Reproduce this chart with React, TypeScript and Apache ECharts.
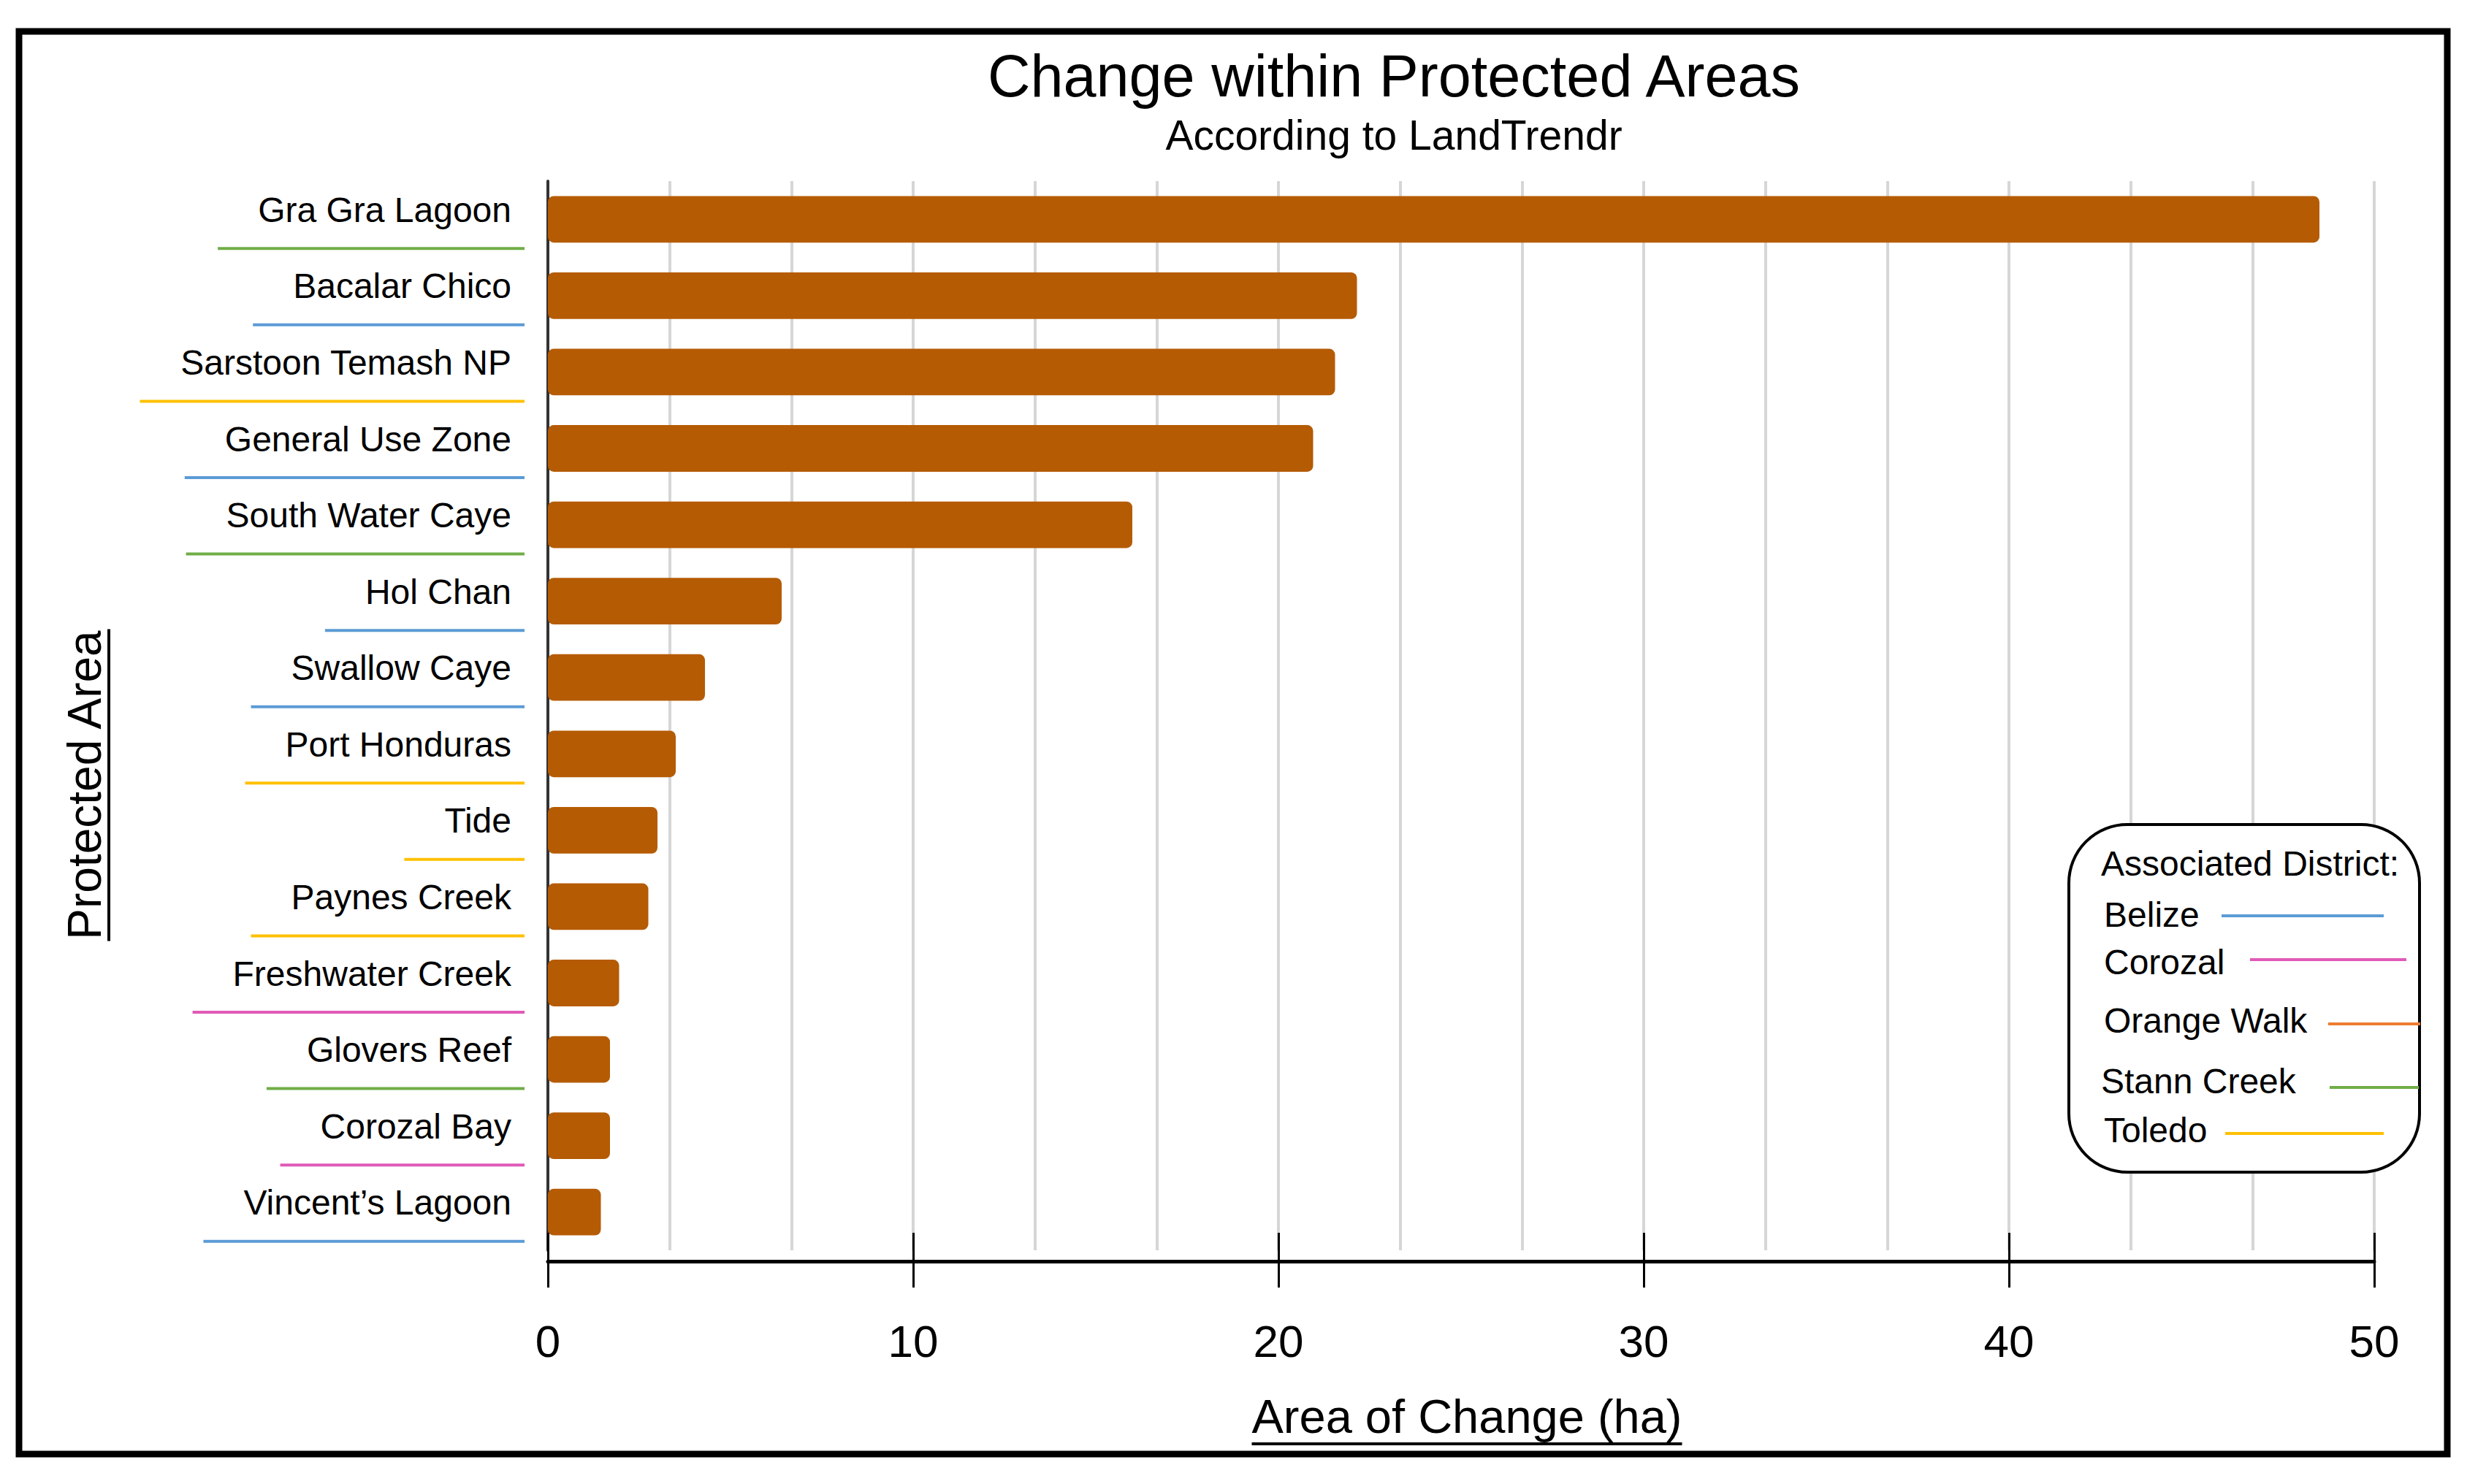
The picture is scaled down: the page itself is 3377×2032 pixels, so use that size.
import React, { useEffect, useRef } from 'react';
import * as echarts from 'echarts';

// ---------- data ----------
const categories = [
  'Gra Gra Lagoon',
  'Bacalar Chico',
  'Sarstoon Temash NP',
  'General Use Zone',
  'South Water Caye',
  'Hol Chan',
  'Swallow Caye',
  'Port Honduras',
  'Tide',
  'Paynes Creek',
  'Freshwater Creek',
  'Glovers Reef',
  'Corozal Bay',
  'Vincent\u2019s Lagoon',
];
const changeHa = [48.5, 22.15, 21.55, 20.95, 16.0, 6.4, 4.3, 3.5, 3.0, 2.75, 1.95, 1.7, 1.7, 1.45];
const categoryDistrict = [
  'Stann Creek',
  'Belize',
  'Toledo',
  'Belize',
  'Stann Creek',
  'Belize',
  'Belize',
  'Toledo',
  'Toledo',
  'Toledo',
  'Corozal',
  'Stann Creek',
  'Corozal',
  'Belize',
];
const districts = ['Belize', 'Corozal', 'Orange Walk', 'Stann Creek', 'Toledo'];
const titleText = 'Change within Protected Areas';
const subtitleText = 'According to LandTrendr';
const xAxisTitle = 'Area of Change (ha)';
const yAxisTitle = 'Protected Area';
const legendTitle = 'Associated District:';

// ---------- styles / layout ----------
const FONT = '"Liberation Sans", Arial, Helvetica, sans-serif';
const districtColors: Record<string, string> = {
  Belize: '#5B9BD5',
  Corozal: '#E05AB8',
  'Orange Walk': '#ED7D31',
  'Stann Creek': '#70AD47',
  Toledo: '#FFC000',
};
const legendLayout = [
  { tx: 2880, ty: 1252, x1: 3041, x2: 3263, ly: 1254 },
  { tx: 2880, ty: 1317, x1: 3080, x2: 3294, ly: 1314 },
  { tx: 2880, ty: 1397, x1: 3187, x2: 3313, ly: 1402 },
  { tx: 2876, ty: 1480, x1: 3189, x2: 3311, ly: 1489 },
  { tx: 2880, ty: 1547, x1: 3046, x2: 3263, ly: 1552 },
];

function measure(text: string, size: number): number {
  const ctx = document.createElement('canvas').getContext('2d');
  if (!ctx) return text.length * size * 0.5;
  ctx.font = `${size}px "Liberation Sans", Arial, sans-serif`;
  return ctx.measureText(text).width;
}

export default function App() {
  const ref = useRef<HTMLDivElement>(null);

  useEffect(() => {
    document.body.style.margin = '0';
    if (!ref.current) return;
    const chart = echarts.init(ref.current, undefined, { renderer: 'svg' });

    const LABEL_SIZE = 48;
    const AXIS_X = 750;
    const labelMargin = 50;
    const underlinePad = 55;

    const xNameW = measure(xAxisTitle, 65);
    const yNameW = measure(yAxisTitle, 64);
    const xNameCx = 2008;
    const yNameCy = 1075;

    const legendGraphics: any[] = [
      {
        type: 'rect',
        z: 100,
        shape: { x: 2832, y: 1129, width: 480, height: 476, r: 80 },
        style: { fill: '#fff', stroke: '#000', lineWidth: 4 },
      },
      {
        type: 'text',
        z: 101,
        x: 2876,
        y: 1182,
        style: {
          text: legendTitle,
          fontSize: 48,
          fontFamily: FONT,
          fill: '#000',
          textAlign: 'left',
          textVerticalAlign: 'middle',
          align: 'left',
          verticalAlign: 'middle',
        },
      },
    ];
    districts.forEach((d, i) => {
      const L = legendLayout[i];
      legendGraphics.push({
        type: 'text',
        z: 101,
        x: L.tx,
        y: L.ty,
        style: {
          text: d,
          fontSize: 48,
          fontFamily: FONT,
          fill: '#000',
          textAlign: 'left',
          textVerticalAlign: 'middle',
          align: 'left',
          verticalAlign: 'middle',
        },
      });
      legendGraphics.push({
        type: 'line',
        z: 101,
        shape: { x1: L.x1, y1: L.ly, x2: L.x2, y2: L.ly },
        style: { stroke: districtColors[d], lineWidth: 4 },
      });
    });

    const option: any = {
      animation: false,
      backgroundColor: '#fff',
      title: {
        text: titleText,
        subtext: subtitleText,
        left: 1903,
        top: 58,
        textAlign: 'center',
        itemGap: 12,
        textStyle: { fontFamily: FONT, fontSize: 81, fontWeight: 'normal', color: '#000' },
        subtextStyle: { fontFamily: FONT, fontSize: 57, color: '#000' },
      },
      grid: { left: AXIS_X, right: 3377 - 3250, top: 248, bottom: 2032 - 1712, containLabel: false },
      xAxis: [
        {
          type: 'value',
          min: 0,
          max: 50,
          interval: 10,
          position: 'bottom',
          offset: 15,
          axisLine: { show: true, lineStyle: { color: '#000', width: 5 } },
          axisTick: { show: true, length: 36, lineStyle: { color: '#000', width: 3 } },
          axisLabel: { fontSize: 62, color: '#000', margin: 78, fontFamily: FONT },
          splitLine: { show: false },
          name: xAxisTitle,
          nameLocation: 'middle',
          nameGap: 180,
          nameTextStyle: { fontSize: 65, color: '#000', fontFamily: FONT, padding: [0, 0, 0, 16] },
        },
        {
          type: 'value',
          min: 0,
          max: 50,
          interval: 10,
          position: 'bottom',
          offset: 15,
          axisLine: { show: false },
          axisTick: { show: true, inside: true, length: 39, lineStyle: { color: '#000', width: 3 } },
          axisLabel: { show: false },
          splitLine: { show: false },
        },
        {
          type: 'value',
          min: 0,
          max: 50,
          interval: 10 / 3,
          position: 'bottom',
          axisLine: { show: false },
          axisTick: { show: false },
          axisLabel: { show: false },
          splitLine: { show: true, lineStyle: { color: '#d6d6d6', width: 4 } },
        },
      ],
      yAxis: {
        type: 'category',
        data: categories,
        inverse: true,
        axisLine: { show: true, onZero: false, lineStyle: { color: '#333', width: 4 } },
        axisTick: { show: false },
        axisLabel: {
          fontSize: LABEL_SIZE,
          color: '#000',
          margin: labelMargin,
          fontFamily: FONT,
          verticalAlign: 'bottom',
          lineHeight: 26,
        },
        splitLine: { show: false },
      },
      series: [
        {
          type: 'bar',
          data: changeHa,
          xAxisIndex: 0,
          barCategoryGap: '39%',
          itemStyle: { color: '#B55B04', borderRadius: 8 },
          z: 3,
        },
        {
          type: 'custom',
          xAxisIndex: 0,
          silent: true,
          clip: false,
          z: 3,
          data: categories.map((_, i) => [0, i]),
          renderItem: (params: any, api: any) => {
            const idx = params.dataIndex;
            const p = api.coord([0, api.value(1)]);
            const right = p[0] - 32;
            const left = p[0] - labelMargin - measure(categories[idx], LABEL_SIZE) - underlinePad;
            const y = p[1] + 40;
            return {
              type: 'line',
              shape: { x1: left, y1: y, x2: right, y2: y },
              style: { stroke: districtColors[categoryDistrict[idx]], lineWidth: 4 },
            };
          },
        },
      ],
      graphic: [
        {
          type: 'rect',
          z: 100,
          shape: { x: 26, y: 43, width: 3324, height: 1948 },
          style: { fill: 'none', stroke: '#000', lineWidth: 9 },
        },
        {
          type: 'line',
          z: 100,
          shape: { x1: xNameCx - xNameW / 2, y1: 1977, x2: xNameCx + xNameW / 2, y2: 1977 },
          style: { stroke: '#000', lineWidth: 4 },
        },
        {
          type: 'text',
          z: 100,
          x: 116,
          y: yNameCy,
          rotation: Math.PI / 2,
          style: {
            text: yAxisTitle,
            fontSize: 64,
            fontFamily: FONT,
            fill: '#000',
            textAlign: 'center',
            textVerticalAlign: 'middle',
            align: 'center',
            verticalAlign: 'middle',
          },
        },
        {
          type: 'line',
          z: 100,
          shape: { x1: 149, y1: yNameCy - yNameW / 2, x2: 149, y2: yNameCy + yNameW / 2 },
          style: { stroke: '#000', lineWidth: 4 },
        },
        ...legendGraphics,
      ],
    };

    chart.setOption(option);
    return () => chart.dispose();
  }, []);

  return <div ref={ref} style={{ width: 3377, height: 2032 }} />;
}
